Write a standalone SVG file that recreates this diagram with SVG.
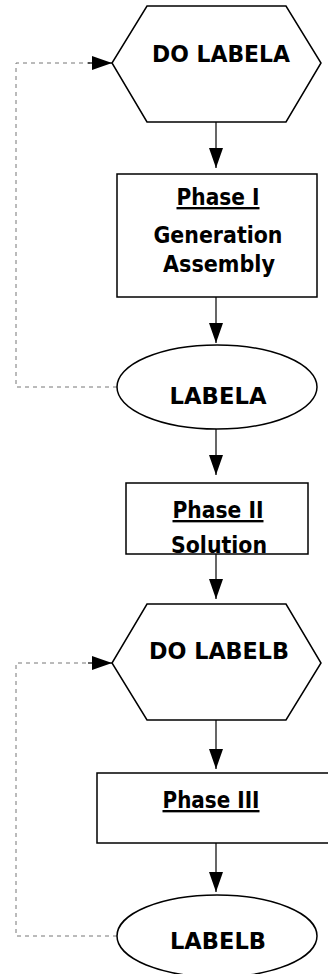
<svg xmlns="http://www.w3.org/2000/svg" width="328" height="974" viewBox="0 0 328 974">
<style>
.shape{fill:#fff;stroke:#000;stroke-width:1.5}
.lbl{font-family:"DejaVu Sans",sans-serif;font-weight:bold;font-size:23.5px;fill:#000;text-anchor:middle}
.u{text-decoration:underline}
.flow{stroke:#000;stroke-width:1.2;fill:none}
.loop{stroke:#777;stroke-width:1;fill:none;stroke-dasharray:4,4}
</style>
<defs>
<marker id="ah" viewBox="0 0 20 14" refX="20" refY="7" markerWidth="20" markerHeight="14" markerUnits="userSpaceOnUse" orient="auto">
<path d="M0,0 L20,7 L0,14 Z" fill="#000"/>
</marker>
</defs>
<g id="connectors">
<line class="flow" x1="216" y1="122" x2="216" y2="168" marker-end="url(#ah)"/>
<line class="flow" x1="216" y1="297" x2="216" y2="343" marker-end="url(#ah)"/>
<line class="flow" x1="216" y1="429" x2="216" y2="475" marker-end="url(#ah)"/>
<line class="flow" x1="216" y1="554" x2="216" y2="599" marker-end="url(#ah)"/>
<line class="flow" x1="216" y1="720" x2="216" y2="769" marker-end="url(#ah)"/>
<line class="flow" x1="216" y1="843" x2="216" y2="892" marker-end="url(#ah)"/>
<polyline class="loop" points="117,387 16,387 16,63 90,63"/>
<line class="flow" x1="88" y1="63" x2="112" y2="63" marker-end="url(#ah)"/>
<polyline class="loop" points="117,936 16,936 16,663 90,663"/>
<line class="flow" x1="88" y1="663" x2="112" y2="663" marker-end="url(#ah)"/>
</g>
<g id="do_labela">
<polygon class="shape" points="147,6 286,6 321,63 286,122 147,122 112,63"/>
<text class="lbl" x="221" y="62" textLength="138" lengthAdjust="spacingAndGlyphs">DO LABELA</text>
</g>
<g id="phase1">
<rect class="shape" x="117" y="174" width="200" height="123"/>
<text class="lbl u" x="218" y="205" textLength="83" lengthAdjust="spacingAndGlyphs">Phase I</text>
<text class="lbl" x="218" y="243" textLength="129" lengthAdjust="spacingAndGlyphs">Generation</text>
<text class="lbl" x="219" y="272" textLength="112" lengthAdjust="spacingAndGlyphs">Assembly</text>
</g>
<g id="labela">
<ellipse class="shape" cx="217" cy="387" rx="100" ry="42"/>
<text class="lbl" x="218" y="404" textLength="97" lengthAdjust="spacingAndGlyphs">LABELA</text>
</g>
<g id="phase2">
<rect class="shape" x="126" y="483" width="182" height="71"/>
<text class="lbl u" x="218" y="518" textLength="91" lengthAdjust="spacingAndGlyphs">Phase II</text>
<text class="lbl" x="219" y="553" textLength="96" lengthAdjust="spacingAndGlyphs">Solution</text>
</g>
<g id="do_labelb">
<polygon class="shape" points="147,604 286,604 321,663 286,720 147,720 112,663"/>
<text class="lbl" x="219" y="659" textLength="140" lengthAdjust="spacingAndGlyphs">DO LABELB</text>
</g>
<g id="phase3">
<rect class="shape" x="97" y="773" width="240" height="70"/>
<text class="lbl u" x="211" y="808" textLength="97" lengthAdjust="spacingAndGlyphs">Phase III</text>
</g>
<g id="labelb">
<ellipse class="shape" cx="217" cy="936" rx="100" ry="41"/>
<text class="lbl" x="218" y="949" textLength="96" lengthAdjust="spacingAndGlyphs">LABELB</text>
</g>
</svg>
